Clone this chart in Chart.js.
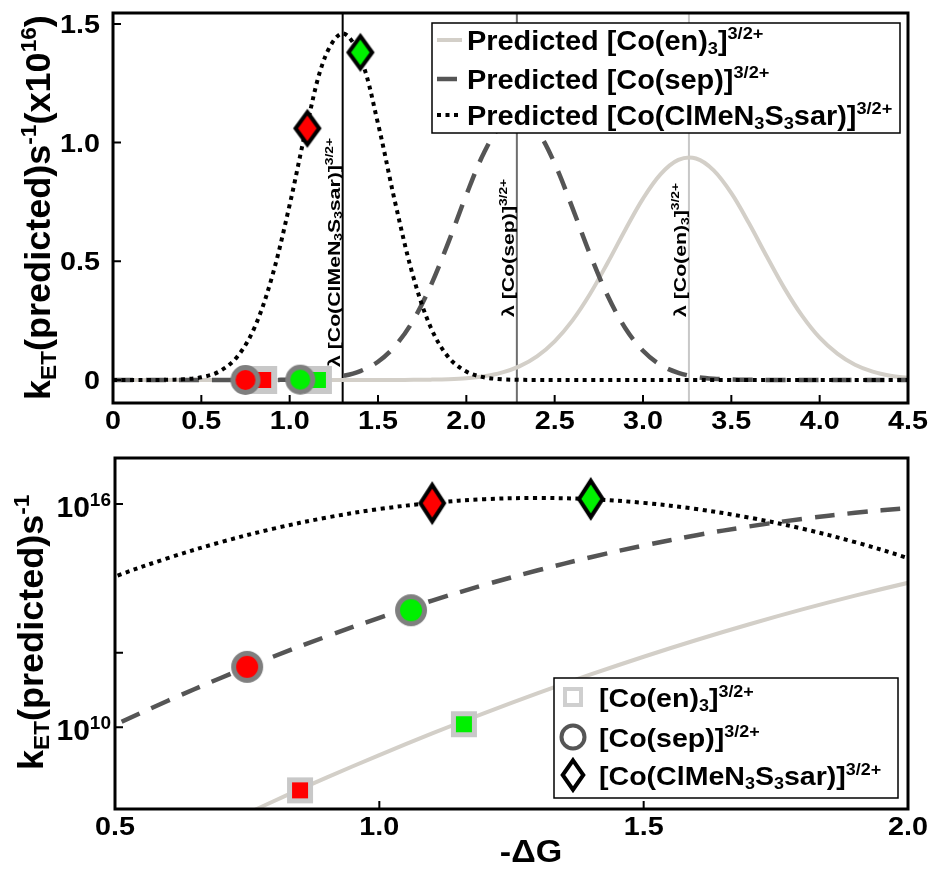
<!DOCTYPE html>
<html>
<head>
<meta charset="utf-8">
<script src="https://cdn.jsdelivr.net/npm/chart.js@4.4.0/dist/chart.umd.min.js"></script>
<style>
  body { margin: 0; background: #fff; }
  #wrap { position: relative; width: 931px; height: 870px; }
  #wrap canvas { position: absolute; left: 0; }
</style>
</head>
<body>
<div id="wrap">
  <canvas id="rateLinear" width="931" height="435" style="top:0"></canvas>
  <canvas id="rateLog" width="931" height="435" style="top:435px"></canvas>
</div>
<script>
const FONT = "'Liberation Sans', Arial, Helvetica, sans-serif";
const bold = (px) => 'bold ' + px + 'px ' + FONT;

// -ΔG grid of the predicted curves (eV)
const dG = [0.0, 0.1, 0.2, 0.3, 0.4, 0.5, 0.6, 0.7, 0.8, 0.9,
            1.0, 1.1, 1.2, 1.3, 1.4, 1.5, 1.6, 1.7, 1.8, 1.9,
            2.0, 2.1, 2.2, 2.3, 2.4, 2.5, 2.6, 2.7, 2.8, 2.9,
            3.0, 3.1, 3.2, 3.3, 3.4, 3.5, 3.6, 3.7, 3.8, 3.9,
            4.0, 4.1, 4.2, 4.3, 4.4, 4.5];

// predicted k_ET (s^-1)
const kEn = [97, 6.8e2, 4.5e3, 2.8e4, 1.6e5, 8.8e5, 4.6e6, 2.2e7, 1.02e8, 4.39e8,
             1.78e9, 6.79e9, 2.44e10, 8.24e10, 2.62e11, 7.85e11, 2.21e12, 5.87e12, 1.47e13, 3.45e13,
             7.64e13, 1.59e14, 3.11e14, 5.74e14, 9.96e14, 1.63e15, 2.50e15, 3.62e15, 4.94e15, 6.33e15,
             7.64e15, 8.67e15, 9.27e15, 9.33e15, 8.83e15, 7.87e15, 6.60e15, 5.21e15, 3.87e15, 2.71e15,
             1.78e15, 1.11e15, 6.4e14, 3.5e14, 1.8e14, 8.9e13];
const kSep = [1.7e6, 1.2e7, 7.6e7, 4.4e8, 2.3e9, 1.15e10, 5.14e10, 2.11e11, 7.96e11, 2.75e12,
              8.75e12, 2.55e13, 6.79e13, 1.66e14, 3.73e14, 7.69e14, 1.46e15, 2.52e15, 4.00e15, 5.83e15,
              7.80e15, 9.57e15, 1.076e16, 1.110e16, 1.050e16, 9.12e15, 7.26e15, 5.30e15, 3.55e15, 2.18e15,
              1.23e15, 6.3e14, 3.0e14, 1.31e14, 5.2e13, 1.9e13, 6.0e12, 2.0e12, 5.5e11, 1.4e11,
              3.4e10, 7.4e9, 1.5e9, 2.7e8, 4.6e7, 7.0e6];
const kClMe = [3.9e10, 2.6e11, 1.5e12, 7.3e12, 3.1e13, 1.13e14, 3.53e14, 9.48e14, 2.19e15, 4.34e15,
               7.38e15, 1.08e16, 1.36e16, 1.46e16, 1.36e16, 1.08e16, 7.38e15, 4.34e15, 2.19e15, 9.48e14,
               3.53e14, 1.13e14, 3.1e13, 7.3e12, 1.5e12, 2.6e11, 3.9e10, 5.0e9, 5.5e8, 5.2e7,
               4.3e6, 3.0e5, 1.8e4, 9.0e2, 41, 1.5, 0, 0, 0, 0,
               0, 0, 0, 0, 0, 0];

// measured points (red, green)
const enObsX = [0.85, 1.16];
const enObsK = [2.0e8, 1.2e10];
const sepObsX = [0.75, 1.06];
const sepObsK = [4.2e11, 1.4e13];
const clObsX = [1.10, 1.40];
const clObsK = [1.06e16, 1.38e16];
const obsFill = ['#ff0000', '#00f000'];

// reorganisation energies
const lambdaVals = [3.26, 2.286, 1.30];
const lambdaColors = ['#c8c8c8', '#6e6e6e', '#000000'];
const lambdaLabelY = [317, 317, 367];

const topXTicks = [0, 0.5, 1.0, 1.5, 2.0, 2.5, 3.0, 3.5, 4.0, 4.5];
const topYTicks = [0, 0.5, 1.0, 1.5];
const botXTicks = [0.5, 1.0, 1.5, 2.0];
const botYTicks = [1e10, 1e12, 1e16];
const botYLabels = [[1e16, '16'], [1e10, '10']];

const complexNames = [
  [['[Co(en)', ''], ['3', 'sub'], [']', ''], ['3/2+', 'sup']],
  [['[Co(sep)]', ''], ['3/2+', 'sup']],
  [['[Co(ClMeN', ''], ['3', 'sub'], ['S', ''], ['3', 'sub'], ['sar)]', ''], ['3/2+', 'sup']]
];

const curveStyle = [
  { color: '#d3cfc8', width: 4, dash: [] },
  { color: '#555555', width: 4.5, dash: [20, 13] },
  { color: '#000000', width: 4, dash: [4, 4.5] }
];

// text with sub/superscripts; stretch widens glyphs horizontally
function drawRich(ctx, parts, x, y, size, stretch) {
  const sx = stretch || 1;
  const small = Math.round(size * 0.62);
  ctx.save();
  ctx.translate(x, y);
  ctx.scale(sx, 1);
  ctx.textAlign = 'left';
  ctx.textBaseline = 'alphabetic';
  let cx = 0;
  parts.forEach(([txt, kind]) => {
    if (kind === 'sub') {
      ctx.font = bold(small);
      ctx.fillText(txt, cx, size * 0.16);
    } else if (kind === 'sup') {
      ctx.font = bold(small);
      ctx.fillText(txt, cx, -size * 0.4);
    } else {
      ctx.font = bold(size);
      ctx.fillText(txt, cx, 0);
    }
    cx += ctx.measureText(txt).width;
  });
  ctx.restore();
  return cx * sx;
}

function drawLabel(ctx, txt, x, y, size, stretch, align) {
  ctx.save();
  ctx.font = bold(size);
  const w = ctx.measureText(txt).width * stretch;
  let x0 = x;
  if (align === 'center') x0 = x - w / 2;
  if (align === 'right') x0 = x - w;
  ctx.translate(x0, y);
  ctx.scale(stretch, 1);
  ctx.textAlign = 'left';
  ctx.textBaseline = 'alphabetic';
  ctx.fillText(txt, 0, 0);
  ctx.restore();
}

function drawVertical(ctx, parts, bx, by, size, stretch) {
  ctx.save();
  ctx.translate(bx, by);
  ctx.rotate(-Math.PI / 2);
  drawRich(ctx, parts, 0, 0, size, stretch);
  ctx.restore();
}

function drawMarker(ctx, spec, fill, cx, cy) {
  const lw = spec.lw;
  ctx.beginPath();
  if (spec.shape === 'square') {
    const w = spec.w - lw;
    ctx.rect(cx - w / 2, cy - w / 2, w, w);
  } else if (spec.shape === 'circle') {
    ctx.arc(cx, cy, (spec.w - lw) / 2, 0, Math.PI * 2);
  } else {
    const w = spec.w - lw * 1.6, h = spec.h - lw * 1.9;
    ctx.moveTo(cx, cy - h / 2);
    ctx.lineTo(cx + w / 2, cy);
    ctx.lineTo(cx, cy + h / 2);
    ctx.lineTo(cx - w / 2, cy);
    ctx.closePath();
  }
  if (fill) {
    ctx.fillStyle = fill;
    ctx.fill();
  }
  ctx.lineWidth = lw;
  ctx.lineJoin = 'miter';
  ctx.strokeStyle = spec.edge;
  ctx.stroke();
}

function markerImage(spec, fill) {
  const c = document.createElement('canvas');
  c.width = spec.w + 10;
  c.height = spec.h + 10;
  drawMarker(c.getContext('2d'), spec, fill, c.width / 2, c.height / 2);
  return c;
}

const topMarkers = [
  { shape: 'square', w: 28, h: 28, lw: 6, edge: '#c8c8c8' },
  { shape: 'circle', w: 30, h: 30, lw: 5, edge: '#7f7f7f' },
  { shape: 'diamond', w: 30, h: 40, lw: 4, edge: '#000000' }
];
const botMarkers = [
  { shape: 'square', w: 26, h: 26, lw: 5, edge: '#c8c8c8' },
  { shape: 'circle', w: 32, h: 32, lw: 5, edge: '#7f7f7f' },
  { shape: 'diamond', w: 30, h: 44, lw: 4, edge: '#000000' }
];
const legendMarkers = [
  { shape: 'square', w: 20, h: 20, lw: 4, edge: '#cfcfcf' },
  { shape: 'circle', w: 27, h: 27, lw: 4, edge: '#555555' },
  { shape: 'diamond', w: 27, h: 37, lw: 4, edge: '#000000' }
];

function curveSets(scale) {
  return [kEn, kSep, kClMe].map((k, i) => ({
    data: dG.map((x, j) => ({ x: x, y: k[j] / scale })),
    borderColor: curveStyle[i].color,
    borderWidth: curveStyle[i].width,
    borderDash: curveStyle[i].dash,
    pointRadius: 0,
    tension: 0.35,
    fill: false,
    order: 6 - i
  }));
}

function obsSets(scale, specs) {
  return [[enObsX, enObsK], [sepObsX, sepObsK], [clObsX, clObsK]].map(([xs, ks], i) => ({
    data: xs.map((x, j) => ({ x: x, y: ks[j] / scale })),
    showLine: false,
    pointRadius: 10,
    pointStyle: obsFill.map(f => markerImage(specs[i], f)),
    order: 3 - i
  }));
}

const fmt = (v) => (v === 0 ? '0' : Number(v).toFixed(1));

function drawFrame(chart, xVals, yVals) {
  const { ctx, chartArea: a, scales: { x, y } } = chart;
  ctx.save();
  ctx.strokeStyle = '#000';
  ctx.lineWidth = 2;
  ctx.beginPath();
  xVals.forEach(v => {
    const px = x.getPixelForValue(v);
    ctx.moveTo(px, a.bottom);
    ctx.lineTo(px, a.bottom - 8);
  });
  yVals.forEach(v => {
    const py = y.getPixelForValue(v);
    ctx.moveTo(a.left, py);
    ctx.lineTo(a.left + 8, py);
  });
  ctx.stroke();
  ctx.lineWidth = 3;
  ctx.strokeRect(a.left, a.top, a.right - a.left, a.bottom - a.top);

  // x tick labels
  ctx.fillStyle = '#000';
  xVals.forEach(v => drawLabel(ctx, fmt(v), x.getPixelForValue(v), a.bottom + 26, 25, 1.15, 'center'));
  ctx.restore();
}

const topDecor = {
  id: 'topDecor',
  beforeDatasetsDraw(chart) {
    const { ctx, chartArea: a, scales: { x } } = chart;
    ctx.save();
    ctx.lineWidth = 2;
    lambdaVals.forEach((lam, i) => {
      const px = x.getPixelForValue(lam);
      ctx.strokeStyle = lambdaColors[i];
      ctx.beginPath();
      ctx.moveTo(px, a.top);
      ctx.lineTo(px, a.bottom);
      ctx.stroke();
    });
    ctx.restore();
  },
  afterDatasetsDraw(chart) {
    const { ctx, chartArea: a, scales: { x, y } } = chart;
    ctx.save();
    ctx.fillStyle = '#000';
    lambdaVals.forEach((lam, i) => {
      drawVertical(ctx, [['λ ', '']].concat(complexNames[i]),
                   x.getPixelForValue(lam) - 3, lambdaLabelY[i], 17, 1.25);
    });

    // legend
    ctx.fillStyle = '#fff';
    ctx.fillRect(432, 23, 468, 110);
    ctx.strokeStyle = '#000';
    ctx.lineWidth = 1.5;
    ctx.strokeRect(432, 23, 468, 110);
    const rowY = [40, 79, 115];
    curveStyle.forEach((st, i) => {
      ctx.strokeStyle = st.color;
      ctx.lineWidth = st.width;
      ctx.setLineDash(st.dash);
      ctx.beginPath();
      ctx.moveTo(437, rowY[i]);
      ctx.lineTo(462, rowY[i]);
      ctx.stroke();
      ctx.setLineDash([]);
      ctx.fillStyle = '#000';
      drawRich(ctx, [['Predicted ', '']].concat(complexNames[i]), 467, rowY[i] + 10, 27, 1.07);
    });

    // y tick labels
    topYTicks.forEach(v => drawLabel(ctx, fmt(v), a.left - 13, y.getPixelForValue(v) + 9, 25, 1.15, 'right'));

    // y title
    drawVertical(ctx, [['k', ''], ['ET', 'sub'], ['(predicted)s', ''], ['-1', 'sup'],
                       ['(x10', ''], ['16', 'sup'], [')', '']], 50, 400, 35, 1.03);
    ctx.restore();
    drawFrame(chart, topXTicks, topYTicks);
  }
};

const botDecor = {
  id: 'botDecor',
  afterDatasetsDraw(chart) {
    const { ctx, chartArea: a, scales: { y } } = chart;
    drawFrame(chart, botXTicks, botYTicks);
    ctx.save();
    ctx.fillStyle = '#000';
    ctx.textAlign = 'left';
    ctx.textBaseline = 'alphabetic';
    // powers of ten on the log axis
    botYLabels.forEach(([v, p]) => {
      const py = y.getPixelForValue(v);
      ctx.font = bold(30);
      const w10 = ctx.measureText('10').width;
      ctx.font = bold(19);
      const wp = ctx.measureText(p).width;
      const x0 = a.left - 4 - wp - w10;
      ctx.font = bold(30);
      ctx.fillText('10', x0, py + 13);
      ctx.font = bold(19);
      ctx.fillText(p, x0 + w10, py + 2);
    });

    // legend
    ctx.fillStyle = '#fff';
    ctx.fillRect(554, 243, 344, 120);
    ctx.strokeStyle = '#000';
    ctx.lineWidth = 1.5;
    ctx.strokeRect(554, 243, 344, 120);
    const rowY = [262, 302, 340];
    legendMarkers.forEach((m, i) => {
      drawMarker(ctx, m, null, 573, rowY[i]);
      ctx.fillStyle = '#000';
      drawRich(ctx, complexNames[i], 599, rowY[i] + 10, 25.5, 1.12);
    });

    // axis titles
    drawVertical(ctx, [['k', ''], ['ET', 'sub'], ['(predicted)s', ''], ['-1', 'sup']], 43, 335, 35, 1.03);
    drawLabel(ctx, '-ΔG', 531, 427, 31, 1.1, 'center');
    ctx.restore();
  }
};

const hiddenTicks = { display: false };

new Chart(document.getElementById('rateLinear'), {
  type: 'line',
  data: { datasets: curveSets(1e16).concat(obsSets(1e16, topMarkers)) },
  options: {
    responsive: false,
    animation: false,
    events: [],
    layout: { padding: { left: 0, right: 23, top: 13, bottom: 0 } },
    plugins: { legend: { display: false }, tooltip: { enabled: false } },
    scales: {
      x: {
        type: 'linear', min: 0, max: 4.5,
        grid: { display: false, drawTicks: false }, border: { display: false },
        ticks: hiddenTicks,
        afterFit: (s) => { s.height = 32; }
      },
      y: {
        type: 'linear', min: -0.097, max: 1.546,
        grid: { display: false, drawTicks: false }, border: { display: false },
        ticks: hiddenTicks,
        afterFit: (s) => { s.width = 113; }
      }
    }
  },
  plugins: [topDecor]
});

new Chart(document.getElementById('rateLog'), {
  type: 'line',
  data: { datasets: curveSets(1).concat(obsSets(1, botMarkers)) },
  options: {
    responsive: false,
    animation: false,
    events: [],
    layout: { padding: { left: 0, right: 23, top: 23, bottom: 0 } },
    plugins: { legend: { display: false }, tooltip: { enabled: false } },
    scales: {
      x: {
        type: 'linear', min: 0.5, max: 2.0,
        grid: { display: false, drawTicks: false }, border: { display: false },
        ticks: hiddenTicks,
        afterFit: (s) => { s.height = 61; }
      },
      y: {
        type: 'logarithmic', min: 6.3e7, max: 1.74e17,
        grid: { display: false, drawTicks: false }, border: { display: false },
        ticks: hiddenTicks,
        afterFit: (s) => { s.width = 115; }
      }
    }
  },
  plugins: [botDecor]
});
</script>
</body>
</html>
